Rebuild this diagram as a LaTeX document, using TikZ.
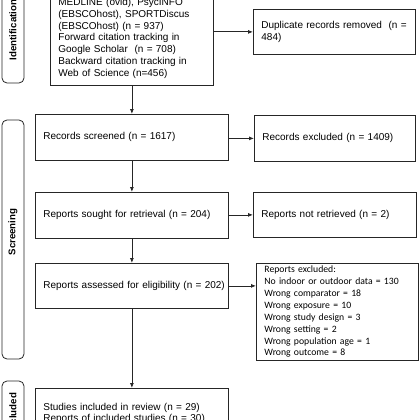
\documentclass[tikz,border=0pt]{standalone}
\usepackage{fontspec}
\setmainfont{Liberation Sans}
\newfontfamily\carlito{Carlito}
\usetikzlibrary{arrows.meta}
\newcommand{\oneline}[1]{\makebox[\linewidth][l]{#1}}
\begin{document}
\begin{tikzpicture}[x=1pt,y=-1pt,
  box/.style={draw=black!85, line width=0.8pt, anchor=north west, inner xsep=8pt, inner ysep=0pt, align=left, font=\fontsize{10}{11.7}\selectfont},
  side/.style={draw=black!85, line width=0.8pt, rounded corners=5pt},
  sidelabel/.style={rotate=90, inner sep=0pt, font=\fontsize{9.7}{11}\selectfont\bfseries},
  arr/.style={-{Latex[length=5pt,width=4pt]}, line width=0.8pt, draw=black!85}]
\useasboundingbox (0,0) rectangle (420,420);
\clip (0,0) rectangle (420,420);
% side boxes
\draw[side] (2,-23) rectangle (24,83);
\node[sidelabel] (lid) at (13,30) {Identification};
\draw[side] (2,120) rectangle (24,359);
\node[sidelabel] (lscr) at (13,232) {Screening};
\draw[side] (2,381) rectangle (24,480);
\node[sidelabel] (linc) at (13,413) {Included};
% main boxes
\node[box, text width=147pt, minimum height=94pt] (top) at (50,-9)
  {MEDLINE (ovid), PsycINFO\\(EBSCOhost), SPORTDiscus\\(EBSCOhost) (n = 937)\\Forward citation tracking in\\Google Scholar\ \ (n = 708)\\Backward citation tracking in\\Web of Science (n=456)};
\node[box, text width=146pt, minimum height=45pt] (dup) at (253,9)
  {\oneline{Duplicate records removed\ \ (n =}\\484)};
\node[box, text width=177pt, minimum height=46pt] (scr) at (35,114)
  {\oneline{Records screened (n = 1617)}};
\node[box, text width=145pt, minimum height=46pt] (excl) at (254,115)
  {\oneline{Records excluded (n = 1409)}};
\node[box, text width=177pt, minimum height=46pt] (sought) at (35,192)
  {\oneline{Reports sought for retrieval (n = 204)}};
\node[box, text width=147pt, minimum height=45pt] (notret) at (253,192)
  {\oneline{Reports not retrieved (n = 2)}};
\node[box, text width=177pt, minimum height=45pt] (assess) at (35,263)
  {\oneline{Reports assessed for eligibility (n = 202)}};
\node[box, text width=146pt, minimum height=97pt, font=\carlito\fontsize{9.7}{11.86}\selectfont] (rexcl) at (256,263)
  {Reports excluded:\\No indoor or outdoor data = 130\\Wrong comparator = 18\\Wrong exposure = 10\\Wrong study design = 3\\Wrong setting = 2\\Wrong population age = 1\\Wrong outcome = 8};
\node[box, text width=177pt, minimum height=50pt] (incl) at (35,388)
  {\oneline{Studies included in review (n = 29)}\\\oneline{Reports of included studies (n = 30)}};
% connectors
\draw[arr] (top.south) -- (scr.north);
\draw[arr] (top.east |- dup.west) -- (dup.west);
\draw[arr] (scr.east |- excl.west) -- (excl.west);
\draw[arr] (scr.south) -- (sought.north);
\draw[arr] (sought.east |- notret.west) -- (notret.west);
\draw[arr] (sought.south) -- (assess.north);
\draw[arr] (assess.east) -- (assess.east -| rexcl.west);
\draw[arr] (assess.south) -- (incl.north);
\end{tikzpicture}
\end{document}
